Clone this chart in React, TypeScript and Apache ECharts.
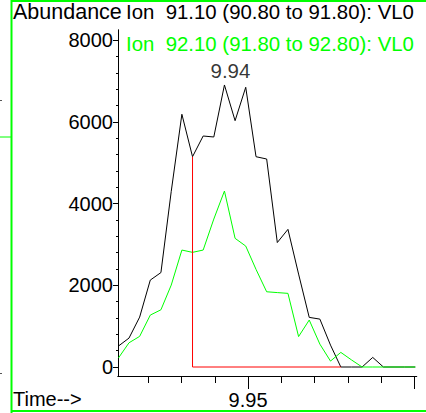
import React, { useEffect, useRef } from "react";
import * as echarts from "echarts";

// Retention times (min) of each scan
const times = [
  9.911, 9.9142, 9.9174, 9.9206, 9.9238, 9.9269, 9.9301, 9.9333, 9.9365, 9.9397,
  9.9429, 9.9461, 9.9493, 9.9524, 9.9556, 9.9588, 9.962, 9.9652, 9.9684, 9.9716,
  9.9748, 9.9779, 9.9811, 9.9843, 9.9875, 9.9907, 9.9939, 9.9971, 10.0003,
];
// Abundance, Ion 91.10
const ion91 = [
  512, 708, 1222, 2128, 2312, 4300, 6187, 5148, 5655, 5631,
  6904, 6030, 6848, 5148, 5092, 3047, 3370, 2275, 1215, 1173,
  536, 0, 0, 0, 235, 0, 0, 0, 0,
];
// Abundance, Ion 92.10
const ion92 = [
  218, 593, 750, 1271, 1401, 2006, 2863, 2807, 2863, 3622,
  4308, 3150, 2961, 2390, 1842, 1822, 1803, 745, 1150, 560,
  145, 358, 174, 0, 0, 0, 0, 0, 0,
];
// Integration baseline (start / end scan times)
const baselineStart = 9.9333;
const baselineEnd = 9.9779;

const yMajorTicks = [0, 2000, 4000, 6000, 8000];
const yMinorTicks = [0, 400, 800, 1200, 1600, 2000, 2400, 2800, 3200, 3600, 4000, 4400, 4800, 5200, 5600, 6000, 6400, 6800, 7200, 7600, 8000];
const xMinorTicks = [9.92, 9.93, 9.94, 9.95, 9.96, 9.97, 9.98, 9.99, 10.0];
const xMajorTicks = [9.95, 10.0];
const xLabels = [9.95];

const title1 = "Ion  91.10 (90.80 to 91.80): VL0";
const title2 = "Ion  92.10 (91.80 to 92.80): VL0";

const FONT = "'Liberation Sans', Arial, sans-serif";
const GREEN = "#00ff00";

export default function App() {
  const ref = useRef<HTMLDivElement>(null);
  useEffect(() => {
    if (!ref.current) return;
    const chart = echarts.init(ref.current, undefined, { renderer: "svg" });
    const xMin = 9.91089;
    const xMax = 10.00072;
    const yMin = -220;
    const yMax = 8250;
    let apex = 0;
    ion91.forEach((v, i) => { if (v > ion91[apex]) apex = i; });
    const startIdx = times.indexOf(baselineStart);
    const redData = [
      [baselineStart, ion91[startIdx]],
      [baselineStart, 0],
      [baselineEnd, 0],
    ];
    const axisCommonX = {
      type: "value",
      min: xMin,
      max: xMax,
      position: "bottom",
      splitLine: { show: false },
      axisLine: { onZero: false, lineStyle: { color: "#000", width: 1 } },
    };
    const axisCommonY = {
      type: "value",
      min: yMin,
      max: yMax,
      position: "left",
      splitLine: { show: false },
      axisLine: { onZero: false, lineStyle: { color: "#000", width: 1 } },
    };
    chart.setOption({
      animation: false,
      grid: { left: 118, top: 30, width: 298.7, height: 346 },
      xAxis: [
        {
          ...axisCommonX,
          axisTick: { customValues: xMinorTicks, length: 7, lineStyle: { color: "#000" } },
          axisLabel: { show: false },
        },
        {
          ...axisCommonX,
          axisTick: { customValues: xMajorTicks, length: 13, lineStyle: { color: "#000" } },
          axisLabel: {
            customValues: xLabels,
            formatter: (v: number) => v.toFixed(2),
            fontSize: 20,
            fontFamily: FONT,
            color: "#000",
            margin: 14,
          },
        },
      ],
      yAxis: [
        {
          ...axisCommonY,
          axisTick: { customValues: yMajorTicks, length: 5, lineStyle: { color: "#000" } },
          axisLabel: {
            customValues: yMajorTicks,
            formatter: (v: number) => String(v),
            fontSize: 20,
            fontFamily: FONT,
            color: "#000",
            margin: 5,
          },
        },
        {
          ...axisCommonY,
          axisTick: { customValues: yMinorTicks, length: 2, lineStyle: { color: "#000" } },
          axisLabel: { show: false },
        },
      ],
      series: [
        {
          type: "line",
          data: times.map((t, i) => [t, ion91[i]]),
          showSymbol: false,
          symbol: "none",
          lineStyle: { color: "#000", width: 1 },
          z: 2,
        },
        {
          type: "line",
          data: times.map((t, i) => [t, ion92[i]]),
          showSymbol: false,
          symbol: "none",
          lineStyle: { color: GREEN, width: 1 },
          z: 3,
        },
        {
          type: "line",
          data: redData,
          showSymbol: false,
          symbol: "none",
          lineStyle: { color: "#ff0000", width: 1 },
          z: 4,
        },
        {
          type: "scatter",
          data: [[times[apex], ion91[apex]]],
          symbolSize: 0,
          itemStyle: { color: "#000" },
          label: {
            show: true,
            position: "top",
            distance: 4,
            offset: [6, 0],
            formatter: () => times[apex].toFixed(2),
            fontSize: 20.5,
            fontFamily: FONT,
            color: "#000",
            textBorderWidth: 0,
          },
          z: 5,
        },
      ],
      graphic: [
        { type: "line", shape: { x1: 11.5, y1: 0, x2: 11.5, y2: 413 }, style: { stroke: GREEN, lineWidth: 2 } },
        { type: "line", shape: { x1: 11, y1: 1, x2: 426, y2: 1 }, style: { stroke: GREEN, lineWidth: 2 } },
        { type: "line", shape: { x1: 11, y1: 411, x2: 426, y2: 411 }, style: { stroke: GREEN, lineWidth: 2 } },
        { type: "line", shape: { x1: 0, y1: 137, x2: 11, y2: 137 }, style: { stroke: GREEN, lineWidth: 1 } },
        { type: "line", shape: { x1: 0, y1: 100.5, x2: 2, y2: 100.5 }, style: { stroke: "#555", lineWidth: 1 } },
        { type: "line", shape: { x1: 0, y1: 373.5, x2: 2, y2: 373.5 }, style: { stroke: "#555", lineWidth: 1 } },
        {
          type: "text",
          style: { text: "Abundance", x: 13, y: 12, fontSize: 21.5, fontFamily: FONT, fill: "#000", verticalAlign: "middle" },
        },
        {
          type: "text",
          style: { text: title1, x: 126, y: 12, fontSize: 20.4, fontFamily: FONT, fill: "#000", verticalAlign: "middle" },
        },
        {
          type: "text",
          style: { text: title2, x: 126, y: 44, fontSize: 20.4, fontFamily: FONT, fill: GREEN, verticalAlign: "middle" },
        },
        {
          type: "text",
          style: { text: "Time-->", x: 13, y: 399, fontSize: 20, fontFamily: FONT, fill: "#000", verticalAlign: "middle" },
        },
      ],
    });
    return () => chart.dispose();
  }, []);
  return (
    <div
      ref={ref}
      style={{ position: "absolute", left: 0, top: 0, width: 426, height: 413, background: "#fff" }}
    />
  );
}
